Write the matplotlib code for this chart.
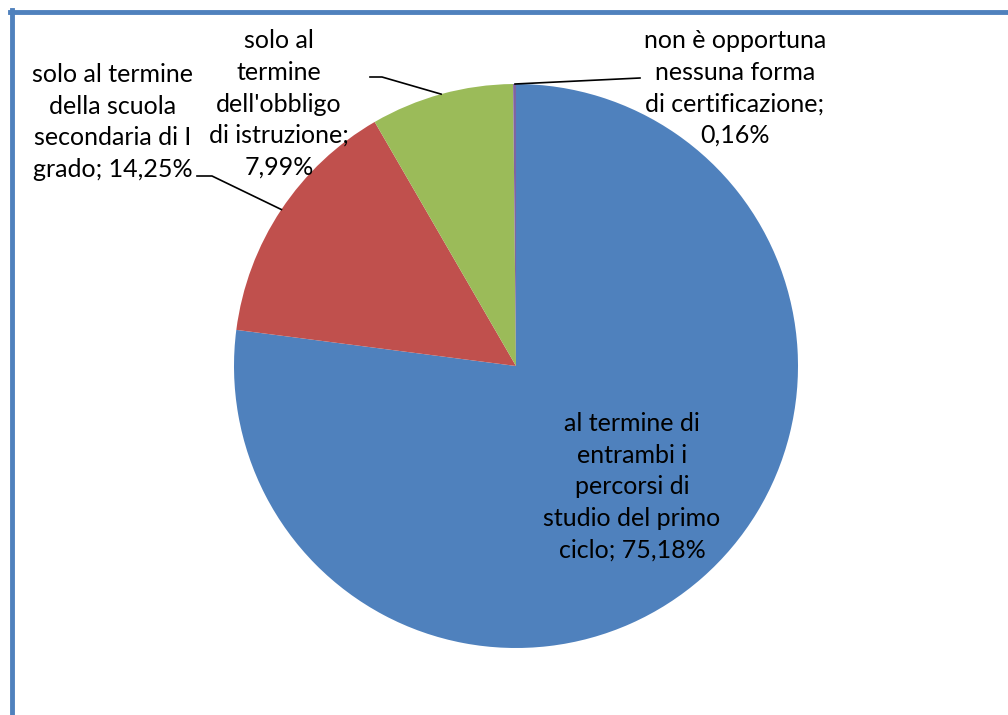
import matplotlib.pyplot as plt
import numpy as np

# slices, clockwise from 12 o'clock
labels = [
    "al termine di\nentrambi i\npercorsi di\nstudio del primo\nciclo; 75,18%",
    "solo al termine\ndella scuola\nsecondaria di I\ngrado; 14,25%",
    "solo al\ntermine\ndell'obbligo\ndi istruzione;\n7,99%",
    "non è opportuna\nnessuna forma\ndi certificazione;\n0,16%",
]
values = [75.18, 14.25, 7.99, 0.16]
colors = ["#4F81BD", "#C0504D", "#9BBB59", "#8064A2"]

W, H = 1008, 715
plt.rcParams["font.family"] = ["Lato", "DejaVu Sans"]
fig = plt.figure(figsize=(W / 100, H / 100), dpi=100)
ax = fig.add_axes([0, 0, 1, 1])

cx, cy, R = 516, H - 366, 282
wedges, _ = ax.pie(values, colors=colors, startangle=90, counterclock=False,
                   center=(cx, cy), radius=R, frame=True,
                   wedgeprops=dict(linewidth=0))
ax.set_xlim(0, W)
ax.set_ylim(0, H)
ax.set_aspect("equal")
ax.axis("off")

fs = 18
# label positions (pixel layout), leader: (angle on rim, elbow, text-side end)
lab_pos = [(632, H - 487), (113, H - 122), (279, H - 104), (735, H - 88)]
leaders = [None,
           (146.3, (212, H - 176), (197, H - 176)),
           (105.4, (382, H - 77), (370, H - 77)),
           (90.2, None, (640, H - 78))]

for txt, (x, y), ld in zip(labels, lab_pos, leaders):
    ax.text(x, y, txt, ha="center", va="center", fontsize=fs,
            linespacing=1.45, color="black")
    if ld is None:
        continue
    ang, elbow, end = ld
    px = cx + R * np.cos(np.radians(ang))
    py = cy + R * np.sin(np.radians(ang))
    xs, ys = [px], [py]
    if elbow is not None:
        xs.append(elbow[0]); ys.append(elbow[1])
    xs.append(end[0]); ys.append(end[1])
    ax.plot(xs, ys, color="black", lw=1.2)

# chart frame (only top and left edges show)
bc = "#4F81BD"
fig.add_artist(plt.Line2D([12 / W, 12 / W], [0, 1 - 10 / H], color=bc, lw=3.5,
                          transform=fig.transFigure))
fig.add_artist(plt.Line2D([10 / W, 1], [1 - 12 / H, 1 - 12 / H], color=bc, lw=3.5,
                          transform=fig.transFigure))

fig.savefig("out.png", dpi=100)
